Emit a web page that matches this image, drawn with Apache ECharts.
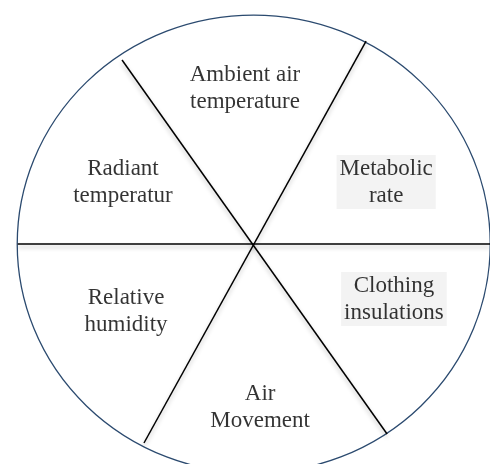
<!DOCTYPE html>
<html>
<head>
    <meta charset="utf-8">
    <title>Thermal comfort factors</title>
    <script src="https://cdn.jsdelivr.net/npm/echarts@6/dist/echarts.min.js"></script>
    <style>
        html, body { margin: 0; padding: 0; background: #fff; }
    </style>
</head>
<body>

<div id='wheel' style="width: 490px; height: 464px;"></div>
<script type="text/javascript">
    // six factors, clockwise from the top
    var factors = ['Ambient air\ntemperature', 'Metabolic\nrate', 'Clothing\ninsulations',
                   'Air\nMovement', 'Relative\nhumidity', 'Radiant\ntemperatur'];
    // label centres (units: horizontal radius = 100, centre at 0,0)
    var labelX = [-3.7, 56.1, 59.4, 2.7, -54.1, -55.4];
    var labelY = [65.8, 26.3, -23.3, -69.1, -28.4, 26.3];
    var shaded = [false, true, true, false, false, false];
    // outline: centre x, centre y, radius x, radius y
    var outline = [[0, 0, 100.2, 97]];
    // dividing lines, each [x1, y1, x2, y2]
    var dividers = [
        [-100, 0, 100.2, 0],
        [-55.8, 78.0, 56.5, -80.5],
        [47.6, 86.0, -46.5, -84.3]
    ];

    var myWheel = echarts.init(document.getElementById('wheel'));

    var lineSeries = dividers.map(function (d) {
        return {
            type: 'line',
            data: [[d[0], d[1]], [d[2], d[3]]],
            symbol: 'none',
            silent: true,
            z: 3,
            lineStyle: {
                color: '#000',
                width: 1.5,
                shadowColor: 'rgba(0,0,0,0.25)',
                shadowBlur: 4,
                shadowOffsetY: 3
            }
        };
    });

    var labelData = factors.map(function (name, i) {
        return {
            value: [labelX[i], labelY[i]],
            label: shaded[i] ? { backgroundColor: '#f0f0f0', padding: [0, 3] } : {}
        };
    });

    var wheelOption = {
        animation: false,
        grid: { left: 0, right: 0, top: 0, bottom: 0 },
        xAxis: { type: 'value', min: -107.5, max: 100.1, show: false },
        yAxis: { type: 'value', min: -93.2, max: 103.4, show: false },
        series: [{
            type: 'custom',
            silent: true,
            z: 2,
            data: outline,
            renderItem: function (params, api) {
                var c = api.coord([api.value(0), api.value(1)]);
                var s = api.size([api.value(2), api.value(3)]);
                var rx = s[0], ry = s[1];
                var p = 'M' + (c[0] - rx) + ' ' + c[1] +
                    ' A' + rx + ' ' + ry + ' 0 1 0 ' + (c[0] + rx) + ' ' + c[1] +
                    ' A' + rx + ' ' + ry + ' 0 1 0 ' + (c[0] - rx) + ' ' + c[1] + ' Z';
                return {
                    type: 'path',
                    shape: { pathData: p },
                    style: { fill: 'none', stroke: '#2b4a6f', lineWidth: 1.3 }
                };
            }
        }].concat(lineSeries).concat([{
            type: 'scatter',
            symbolSize: 0,
            silent: true,
            z: 5,
            data: labelData,
            label: {
                show: true,
                position: 'inside',
                formatter: function (p) { return factors[p.dataIndex]; },
                fontFamily: '"Liberation Serif", "Times New Roman", serif',
                fontSize: 23,
                lineHeight: 27,
                color: '#000',
                align: 'center',
                verticalAlign: 'middle'
            }
        }])
    };

    myWheel.setOption(wheelOption);
</script>
</body>
</html>
